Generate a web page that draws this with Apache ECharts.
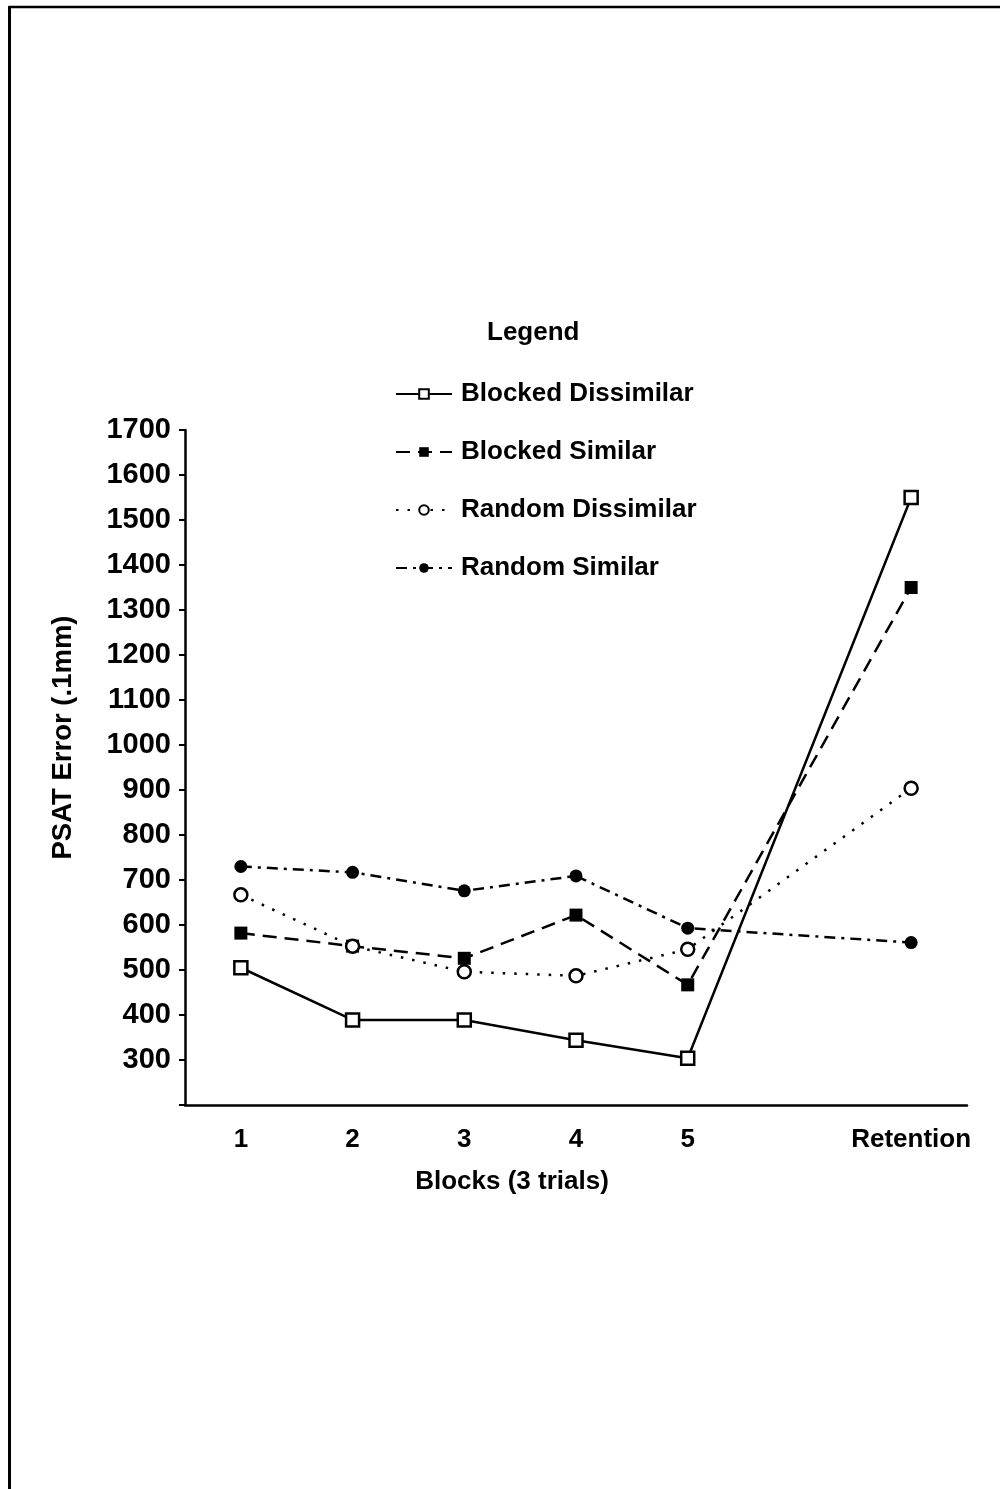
<!DOCTYPE html>
<html>
<head>
<meta charset="utf-8">
<script src="https://cdn.jsdelivr.net/npm/echarts@6/dist/echarts.min.js"></script>
<style>
  html, body { margin: 0; padding: 0; background: #fff; }
  #chart { width: 1006px; height: 1489px; }
</style>
</head>
<body>
<div id="chart"></div>
<script>
// blocks along the x axis; the empty slot is the gap before retention
const blocks = ["1", "2", "3", "4", "5", "", "Retention"];
const yTicks = [200, 1700, 100]; // min, max, step

// PSAT error (.1mm), null = no point in the gap slot
const blockedDissimilar = [505, 389, 389, 344, 304, null, 1550];
const blockedSimilar = [582, 553, 526, 622, 467, null, 1350];
const randomDissimilar = [667, 553, 496, 487, 546, null, 904];
const randomSimilar = [730, 717, 676, 709, 593, null, 561];

const font = "'Liberation Sans', Arial, sans-serif";

const chart = echarts.init(document.getElementById("chart"));

function line(name, data, symbol, filled, dash, width) {
  return {
    name: name,
    type: "line",
    data: data,
    connectNulls: true,
    symbol: symbol,
    symbolSize: 13,
    showAllSymbol: true,
    lineStyle: { color: "#000", width: width, type: dash, cap: "butt" },
    itemStyle: {
      color: filled ? "#000" : "#fff",
      borderColor: "#000",
      borderWidth: filled ? 0 : 2.5,
    },
    emphasis: { disabled: true },
    animation: false,
    z: filled ? 3 : 4,
  };
}

chart.setOption({
  backgroundColor: "#fff",
  animation: false,
  title: {
    text: "Legend",
    left: 482,
    top: 315,
    textStyle: { fontFamily: font, fontSize: 26, fontWeight: "bold", color: "#000" },
  },
  legend: {
    orient: "vertical",
    left: 390,
    top: 374,
    itemWidth: 56,
    itemHeight: 12,
    itemGap: 28,
    textStyle: { fontFamily: font, fontSize: 26, fontWeight: "bold", color: "#000", lineHeight: 30, padding: [0, 0, 0, 4] },
    data: ["Blocked Dissimilar", "Blocked Similar", "Random Dissimilar", "Random Similar"],
  },
  grid: { left: 185, right: 39, top: 430, bottom: 384 },
  xAxis: {
    type: "category",
    data: blocks,
    boundaryGap: true,
    name: "Blocks (3 trials)",
    nameLocation: "middle",
    nameGap: 64,
    nameTextStyle: { fontFamily: font, fontSize: 26, fontWeight: "bold", color: "#000", padding: [0, 128, 0, 0] },
    axisLine: { lineStyle: { color: "#000", width: 2.5 } },
    axisTick: { alignWithLabel: true, length: 6, lineStyle: { color: "#000", width: 2 } },
    axisLabel: { interval: 0, margin: 22, fontFamily: font, fontSize: 26, fontWeight: "bold", color: "#000" },
    splitLine: { show: false },
  },
  yAxis: {
    type: "value",
    min: yTicks[0],
    max: yTicks[1],
    interval: yTicks[2],
    name: "PSAT Error (.1mm)",
    nameLocation: "middle",
    nameGap: 108,
    nameRotate: 90,
    nameTextStyle: { fontFamily: font, fontSize: 27.5, fontWeight: "bold", color: "#000", padding: [0, 0, 0, 60] },
    axisLine: { show: true, lineStyle: { color: "#000", width: 2.5 } },
    axisTick: { show: true, length: 6, lineStyle: { color: "#000", width: 2 } },
    axisLabel: {
      margin: 14,
      fontFamily: font,
      fontSize: 29,
      fontWeight: "bold",
      color: "#000",
      formatter: (v) => (v === yTicks[0] ? "" : String(v)),
    },
    splitLine: { show: false },
  },
  graphic: [
    { type: "line", shape: { x1: 9.5, y1: 6, x2: 9.5, y2: 1489 }, style: { stroke: "#000", lineWidth: 3 } },
    { type: "line", shape: { x1: 9, y1: 7, x2: 1000, y2: 7 }, style: { stroke: "#000", lineWidth: 2.5 } },
  ],
  series: [
    line("Blocked Dissimilar", blockedDissimilar, "rect", false, "solid", 2.5),
    line("Blocked Similar", blockedSimilar, "rect", true, [14, 8], 2.5),
    line("Random Dissimilar", randomDissimilar, "circle", false, [2.5, 9], 2.5),
    line("Random Similar", randomSimilar, "circle", true, [11, 6, 3, 6], 2.5),
  ],
});
</script>
</body>
</html>
